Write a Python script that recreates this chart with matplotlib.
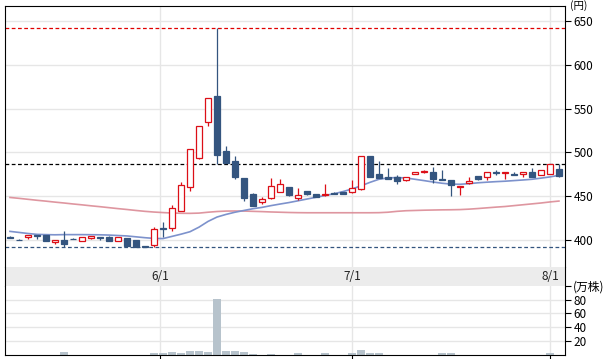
import numpy as np
import matplotlib.pyplot as plt
from matplotlib.ticker import FixedLocator

plt.rcParams['font.family'] = ['Noto Sans CJK JP', 'DejaVu Sans']
plt.rcParams['font.size'] = 8

# daily candles (yen)
opens = [404, 400.8, 404, 405.6, 405.6, 398.5, 400, 401.6, 399.6, 403, 403.8, 404.1, 399.6, 402.6, 400.3, 393.6,
         394.3, 414, 414, 433, 460.3, 493.4, 534.3, 564.3, 501.7, 490.3, 470.9, 452.7, 443.6, 447.8, 454.7,
         460.3, 447.8, 455.8, 452.4, 451.6, 453.5, 454.6, 454.6, 458, 496, 475.5, 471.7, 471.7, 468.3,
         475.1, 477.4, 477.8, 469.8, 468.7, 460.3, 464.9, 473.2, 471.7, 477.4, 477, 475.9, 475.9, 477.8,
         474, 475.9, 481.2]
highs = [405, 402, 406, 405.8, 406, 400.4, 410.6, 403, 403.6, 405.5, 404, 404.5, 404.2, 403, 400.5, 393.8,
         415.5, 420.8, 439.8, 466.4, 503.8, 530, 561.9, 641.3, 507.4, 495.5, 471, 453.5, 449, 470.6, 469.8,
         461, 459.5, 456, 452.5, 463.8, 455, 455, 468.7, 495.8, 496.2, 490, 482.3, 474, 472.6,
         478, 479.6, 483.8, 480.4, 469, 461.7, 472, 473.5, 478, 480.4, 478.3, 477.8, 478, 482.3,
         479.9, 486.7, 486.5]
lows = [402.5, 400, 401, 402, 399.5, 395.5, 392, 401, 399.5, 401, 400.5, 399.5, 399.5, 393.9, 392.2, 392,
        392.8, 404, 410.8, 433, 455.8, 493, 530.5, 486.5, 488, 470, 444.4, 439, 441.5, 447, 454.5,
        451, 445.9, 452, 449, 450, 452.2, 452.2, 454.4, 457.8, 472, 471, 469.6, 464.3, 468,
        475, 476.5, 465.6, 468.5, 450.8, 451.9, 464.5, 468.2, 469, 474.1, 469.8, 473.8, 472, 472.2,
        473.8, 475.7, 471.7]
closes = [403.2, 400.2, 405.6, 405, 399.6, 400, 395.8, 401, 403.4, 405.3, 402.6, 399.6, 404, 393.9, 392.4, 392,
          412.5, 412.6, 436.8, 462.6, 503.6, 529.8, 561.7, 497.5, 488.4, 472.4, 448.5, 439.4, 446.7, 461.5, 463.7,
          451.2, 451.2, 452.4, 449.4, 452.4, 452.4, 452.4, 460, 495.6, 472.4, 471.3, 469.8, 467.9, 472.4,
          477.8, 479.2, 469.4, 468.7, 463, 461.5, 467.2, 469.4, 477.8, 476.6, 478.1, 474, 477.8, 472.4,
          479.7, 486.5, 473.5]

# volume (万株)
volume = [0.6, 0.6, 0.6, 0.6, 0.6, 0.6, 4, 0.6, 0.6, 0.6, 0.6, 0.6, 0.6, 0.6, 0.6, 0.6,
          2.5, 2.5, 4.5, 2.5, 6.5, 6.5, 5, 81, 6.5, 6.5, 4.5, 2, 0.6, 2, 0.6,
          0.6, 3, 0.6, 0.6, 2.5, 0.6, 0.6, 2.5, 7, 2.5, 2.5, 0.6, 0.6, 0.6,
          0.6, 0.6, 0.6, 2.5, 2.5, 0.6, 0.6, 0.6, 0.6, 0.6, 0.6, 0.6, 0.6, 0.6,
          0.6, 2.5, 0.6]

# moving averages
ma_short = [410.2, 409, 407.8, 406.8, 406.5, 406.3, 406.5, 406.5, 406.5, 406.4, 406.3, 406, 405.5, 405, 404, 403,
            402.2, 402, 404.5, 407, 409.8, 415, 421.5, 426.5, 429.5, 432, 434, 436, 437.5, 439.5, 441.3,
            443, 445, 447, 449, 451, 453, 455.5, 458.5, 462, 466, 469.5, 471, 471.5, 471,
            469.5, 468, 466.4, 465, 464, 463.8, 464.5, 465.5, 466.2, 466.8, 467.3, 468, 468.7, 469.5,
            470.8, 472.2, 474]
ma_long = [448.8, 447.8, 446.7, 445.6, 444.6, 443.5, 442.5, 441.4, 440.4, 439.3, 438.3, 437.2, 436.1, 435.1, 434, 433,
           432.2, 431.6, 431.1, 430.8, 430.7, 431, 432, 432.8, 433.3, 433.4, 433.3, 433, 432.7, 432.3, 432,
           431.7, 431.5, 431.4, 431.4, 431.4, 431.4, 431.4, 431.4, 431.4, 431.4, 431.5, 432, 433, 433.7,
           434, 434.3, 434.5, 434.7, 434.8, 435, 435.5, 436.2, 437, 437.8, 438.5, 439.5, 440.5, 441.5,
           442.5, 443.7, 444.7]

date_pos = [16.7, 38.05, 60.05]
date_labels = ['6/1', '7/1', '8/1']
price_ticks = [400, 450, 500, 550, 600, 650]
vol_ticks = [20, 40, 60, 80, 100]
vol_labels = ['20', '40', '60', '80', '(万株)']
high_line = 641.3
prev_line = 486.5
low_line = 392

UP = '#dc0f17'
DOWN = '#34557f'
GRID = '#e6e6e6'

x = np.arange(len(opens))
fig = plt.figure(figsize=(6.1, 3.59), dpi=100)
ax = fig.add_axes([0.0087, 0.2554, 0.9175, 0.7271])
band = fig.add_axes([0.0087, 0.2042, 0.9175, 0.0512])
axv = fig.add_axes([0.0087, 0.0111, 0.9175, 0.1931])

xlim = (-0.52, 61.67)

# price panel
ax.set_xlim(*xlim)
ax.set_ylim(369.3, 666.4)
for p in price_ticks:
    ax.axhline(p, color=GRID, lw=1, zorder=0)
for d in date_pos:
    ax.axvline(d, color=GRID, lw=1, zorder=0)
ax.plot(x, ma_long, color='#d9848f', lw=1.2, alpha=0.85, zorder=1)
ax.plot(x, ma_short, color='#7d92cc', lw=1.2, zorder=1)
ax.axhline(high_line, color='#e00000', lw=0.9, ls=(0, (3, 2)), zorder=2)
ax.axhline(prev_line, color='black', lw=0.9, ls=(0, (3, 2)), zorder=2)
ax.axhline(low_line, color=DOWN, lw=0.9, ls=(0, (3, 2)), zorder=2)

for i in x:
    o, h, l, c = opens[i], highs[i], lows[i], closes[i]
    up = c >= o
    col = UP if up else DOWN
    ax.vlines(i, l, h, color=col, lw=0.9, zorder=3)
    ax.bar(i, max(abs(c - o), 0.3), bottom=min(o, c), width=0.7,
           facecolor='white' if up else DOWN, edgecolor=col, lw=0.9, zorder=4)

ax.yaxis.tick_right()
ax.set_yticks(price_ticks)
ax.tick_params(axis='y', length=4, pad=2, labelsize=8.5)
ax.set_xticks([])
ax.spines['bottom'].set_visible(False)
fig.text(0.935, 1.0, '(円)', fontsize=7.5, va='top', ha='left')

# date band
band.set_xlim(*xlim)
band.set_facecolor('#ececec')
band.set_xticks([])
band.set_yticks([])
band.spines['top'].set_visible(False)
band.spines['bottom'].set_visible(False)
for d, lab in zip(date_pos, date_labels):
    band.text(d, 0.5, lab, ha='center', va='center', fontsize=8.5, color='#222222')

# volume panel
axv.set_xlim(*xlim)
axv.set_ylim(0, 100)
for v in vol_ticks[:-1]:
    axv.axhline(v, color=GRID, lw=1, zorder=0)
for d in date_pos:
    axv.axvline(d, color=GRID, lw=1, zorder=0)
axv.bar(x, volume, width=0.8, color='#b7c3cc', zorder=2)
axv.yaxis.tick_right()
axv.yaxis.set_major_locator(FixedLocator(vol_ticks))
axv.set_yticklabels(vol_labels)
axv.tick_params(axis='y', length=4, pad=2, labelsize=8.5)
axv.set_xticks(date_pos)
axv.set_xticklabels([])
axv.tick_params(axis='x', length=4)
axv.spines['top'].set_visible(False)

fig.savefig('out.png', dpi=100)
